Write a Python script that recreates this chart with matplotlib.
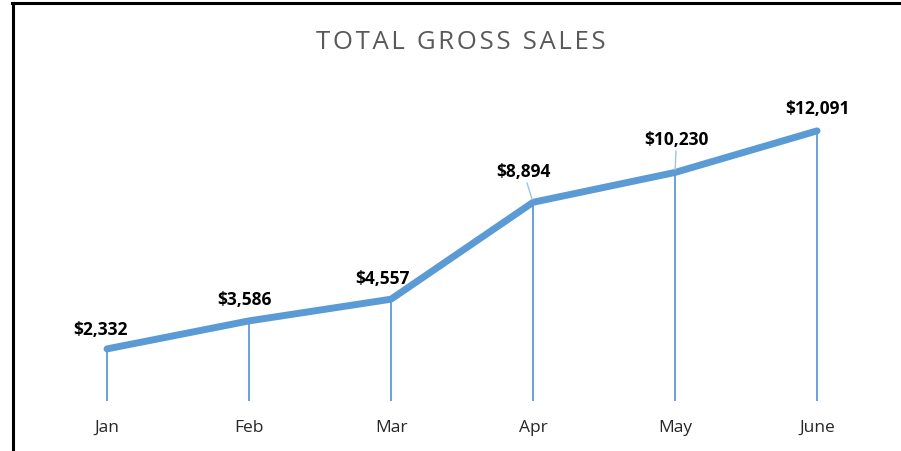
import matplotlib.pyplot as plt
from matplotlib.lines import Line2D

months = ['Jan', 'Feb', 'Mar', 'Apr', 'May', 'June']
sales = [2332, 3586, 4557, 8894, 10230, 12091]
labels = ['$2,332', '$3,586', '$4,557', '$8,894', '$10,230', '$12,091']
# label centre offsets in points (dx, dy) from each point
offsets = [(-5, 14.5), (-3, 16), (-6, 15), (-7, 22.5), (1, 24), (0, 16.5)]

blue = '#5B9BD5'
plt.rcParams['font.family'] = ['Open Sans', 'DejaVu Sans']

fig = plt.figure(figsize=(9.01, 4.52), dpi=100)
ax = fig.add_axes([0.040, 0.1106, 0.9456, 0.692])

x = list(range(len(months)))
ax.vlines(x, 0, sales, color=blue, lw=1.3)
ax.plot(x, sales, color=blue, lw=5, solid_capstyle='round', solid_joinstyle='round', zorder=3)

for i, (v, lab, off) in enumerate(zip(sales, labels, offsets)):
    lead = None
    if off[1] > 20:
        lead = dict(arrowstyle='-', color='#9DC3E6', lw=1, shrinkA=0, shrinkB=2)
    ax.annotate(lab, (i, v), xytext=off, textcoords='offset points',
                ha='center', va='center', fontsize=12.5, fontweight='bold',
                color='black', arrowprops=lead)

ax.set_xlim(-0.5, 5.5)
ax.set_ylim(0, 14000)
ax.set_xticks(x)
ax.set_xticklabels(months, fontsize=12.5, color='#262626')
ax.tick_params(axis='x', length=0, pad=13)
ax.set_yticks([])
for s in ax.spines.values():
    s.set_visible(False)

title = '\u200a'.join('TOTAL GROSS SALES')
fig.text(0.511, 0.905, title, ha='center', va='center',
         fontsize=18.5, color='#595959')

# frame around the chart
fig.add_artist(Line2D([12 / 901, 1], [1 - 4 / 452, 1 - 4 / 452], color='black', lw=2.2))
fig.add_artist(Line2D([13 / 901, 13 / 901], [0, 1 - 4 / 452], color='black', lw=2.2))

fig.savefig('out.png', dpi=100)
